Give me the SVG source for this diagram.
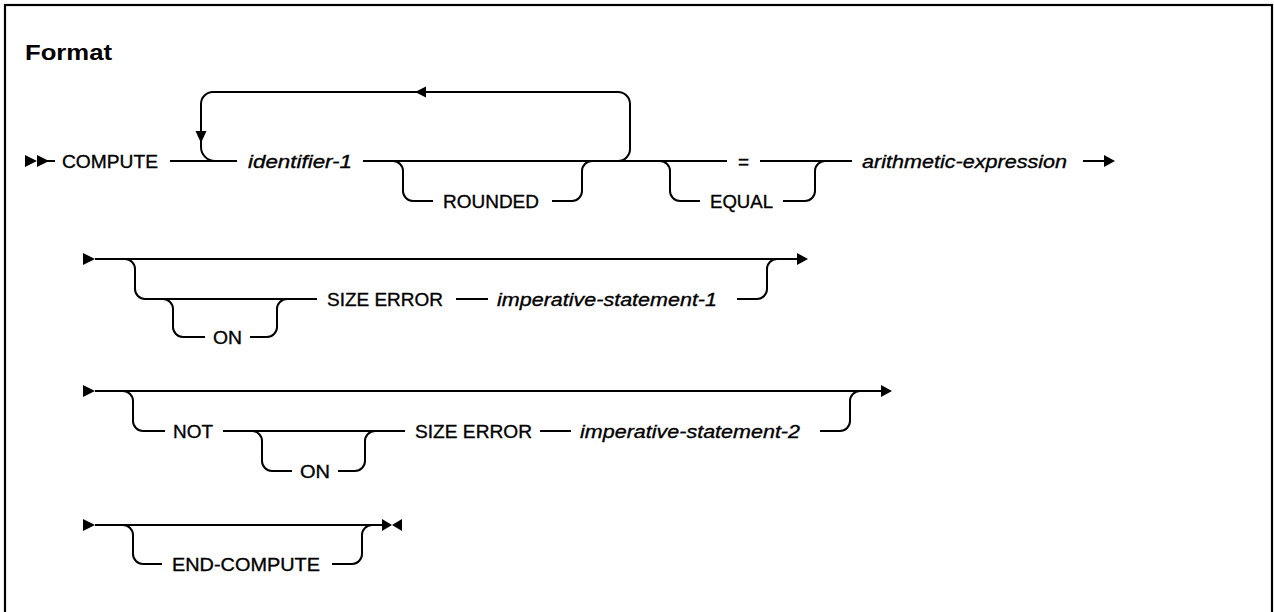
<svg xmlns="http://www.w3.org/2000/svg" width="1274" height="612" viewBox="0 0 1274 612">
<style>
.t{font-family:"Liberation Sans",Arial,sans-serif;font-size:19px;fill:#000;stroke:#000;stroke-width:0.35}
.i{font-family:"Liberation Sans",Arial,sans-serif;font-size:19px;font-style:italic;fill:#000;stroke:#000;stroke-width:0.35}
.h{font-family:"Liberation Sans",Arial,sans-serif;font-size:22px;font-weight:bold;fill:#000}
.c{fill:none;stroke:#000;stroke-width:2}
.a{fill:#000;stroke:none}
</style>
<rect x="0" y="0" width="1274" height="612" fill="#fff"/>
<rect id="frame" x="5" y="5" width="1267" height="700" fill="none" stroke="#000" stroke-width="2.2"/>
<g id="title"><text class="h" x="25" y="60" textLength="87" lengthAdjust="spacingAndGlyphs">Format</text></g>

<g id="connectors">
  <!-- row 1 -->
  <polygon class="a" points="25,155 25,167 37,161"/>
  <polygon class="a" points="37,155 37,167 49,161"/>
  <path class="c" d="M37 161 H55"/>
  <path class="c" d="M170 161 H237 M363 161 H727 M760 161 H852 M1083 161 H1105"/>
  <polygon class="a" points="1104,155 1104,167 1115,161"/>
  <path class="c" d="M618 161 A12 12 0 0 0 630 149 V104 A12 12 0 0 0 618 92 H213 A12 12 0 0 0 201 104 V147 A14 14 0 0 0 215 161"/>
  <polygon class="a" points="415,92 426,86.5 426,97.5"/>
  <polygon class="a" points="201,143 195.5,131 206.5,131"/>
  <path class="c" d="M393 161 A10 10 0 0 1 403 171 V191 A10 10 0 0 0 413 201 H433 M552 201 H572 A10 10 0 0 0 582 191 V171 A10 10 0 0 1 592 161"/>
  <path class="c" d="M660 161 A10 10 0 0 1 670 171 V191 A10 10 0 0 0 680 201 H700 M783 201 H805 A10 10 0 0 0 815 191 V171 A10 10 0 0 1 825 161"/>

  <!-- row 2 -->
  <polygon class="a" points="83,253 83,265 95,259"/>
  <path class="c" d="M95 259 H798"/>
  <polygon class="a" points="797,253 797,265 808,259"/>
  <path class="c" d="M125 259 A10 10 0 0 1 135 269 V289 A10 10 0 0 0 145 299 H317 M456 299 H488 M737 299 H757 A10 10 0 0 0 767 289 V269 A10 10 0 0 1 777 259"/>
  <path class="c" d="M163 299 A10 10 0 0 1 173 309 V327 A10 10 0 0 0 183 337 H205 M250 337 H267 A10 10 0 0 0 277 327 V309 A10 10 0 0 1 287 299"/>

  <!-- row 3 -->
  <polygon class="a" points="83,385 83,397 95,391"/>
  <path class="c" d="M95 391 H882"/>
  <polygon class="a" points="881,385 881,397 892,391"/>
  <path class="c" d="M123 391 A10 10 0 0 1 133 401 V421 A10 10 0 0 0 143 431 H165 M223 431 H405 M540 431 H571 M820 431 H840 A10 10 0 0 0 850 421 V401 A10 10 0 0 1 860 391"/>
  <path class="c" d="M252 431 A10 10 0 0 1 262 441 V461 A10 10 0 0 0 272 471 H292 M338 471 H355 A10 10 0 0 0 365 461 V441 A10 10 0 0 1 375 431"/>

  <!-- row 4 -->
  <polygon class="a" points="83,519 83,531 95,525"/>
  <path class="c" d="M95 525 H383"/>
  <polygon class="a" points="382,519 382,531 392,525"/>
  <polygon class="a" points="392,525 402,519 402,531"/>
  <path class="c" d="M123 525 A10 10 0 0 1 133 535 V554 A10 10 0 0 0 143 564 H162 M332 564 H352 A10 10 0 0 0 362 554 V535 A10 10 0 0 1 372 525"/>
</g>

<g id="n-compute"><text class="t" x="62" y="168" textLength="96" lengthAdjust="spacingAndGlyphs">COMPUTE</text></g>
<g id="n-identifier1"><text class="i" x="248" y="168" textLength="104" lengthAdjust="spacingAndGlyphs">identifier-1</text></g>
<g id="n-rounded"><text class="t" x="443" y="208" textLength="96" lengthAdjust="spacingAndGlyphs">ROUNDED</text></g>
<g id="n-eq"><text class="t" x="738" y="168">=</text></g>
<g id="n-equal"><text class="t" x="710" y="208" textLength="63" lengthAdjust="spacingAndGlyphs">EQUAL</text></g>
<g id="n-arith"><text class="i" x="862" y="168" textLength="205" lengthAdjust="spacingAndGlyphs">arithmetic-expression</text></g>

<g id="n-on1"><text class="t" x="213" y="344" textLength="29" lengthAdjust="spacingAndGlyphs">ON</text></g>
<g id="n-sizeerror1"><text class="t" x="327" y="306" textLength="116" lengthAdjust="spacingAndGlyphs">SIZE ERROR</text></g>
<g id="n-imp1"><text class="i" x="497" y="306" textLength="220" lengthAdjust="spacingAndGlyphs">imperative-statement-1</text></g>

<g id="n-not"><text class="t" x="173" y="438" textLength="40" lengthAdjust="spacingAndGlyphs">NOT</text></g>
<g id="n-on2"><text class="t" x="300" y="478" textLength="30" lengthAdjust="spacingAndGlyphs">ON</text></g>
<g id="n-sizeerror2"><text class="t" x="415" y="438" textLength="117" lengthAdjust="spacingAndGlyphs">SIZE ERROR</text></g>
<g id="n-imp2"><text class="i" x="580" y="438" textLength="220" lengthAdjust="spacingAndGlyphs">imperative-statement-2</text></g>

<g id="n-endcompute"><text class="t" x="172" y="571" textLength="148" lengthAdjust="spacingAndGlyphs">END-COMPUTE</text></g>
</svg>
